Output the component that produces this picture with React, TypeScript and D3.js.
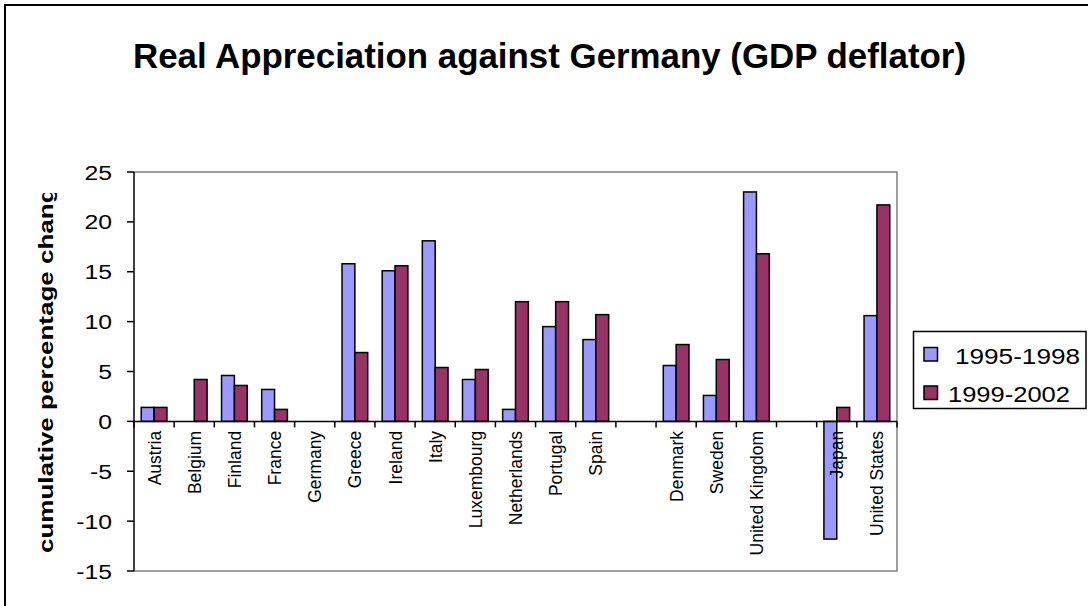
import React from "react";
import * as d3 from "d3";

const categories = ["Austria","Belgium","Finland","France","Germany","Greece","Ireland","Italy","Luxembourg","Netherlands","Portugal","Spain","","Denmark","Sweden","United Kingdom","","Japan","United States"];
const series1995 = [1.4,0,4.6,3.2,0,15.8,15.1,18.1,4.2,1.2,9.5,8.2,null,5.6,2.6,23.0,null,-11.8,10.6];
const series1999 = [1.4,4.2,3.6,1.2,0,6.9,15.6,5.4,5.2,12.0,12.0,10.7,null,7.7,6.2,16.8,null,1.4,21.7];
const seriesNames = ["1995-1998","1999-2002"];
const yTicks = [-15,-10,-5,0,5,10,15,20,25];
const colors = ["#9999FF","#993366"];

const FONT = "'Liberation Sans', Arial, sans-serif";

export default function App() {
  const W = 1088, H = 606;
  const left = 134, right = 897, top = 172, bottom = 571;
  const x = d3.scaleBand<number>().domain(d3.range(categories.length)).range([left, right]).padding(0);
  const y = d3.scaleLinear().domain([-15, 25]).range([bottom, top]);
  const step = x.step();
  const barW = step * 0.32;
  const inner = d3.scaleBand<number>().domain([0, 1]).range([0, barW * 2]).padding(0);
  const all = [series1995, series1999];
  const y0 = y(0);

  return (
    <svg width={W} height={H} style={{ position: "absolute", left: 0, top: 0, background: "#fff" }} fontFamily={FONT}>
      <rect x={0} y={0} width={W} height={H} fill="#fff" />
      <rect x={5} y={5} width={W + 20} height={H + 20} fill="none" stroke="#000" strokeWidth={2} />
      <defs>
        <clipPath id="ytclip">
          <rect x={0} y={193} width={120} height={400} />
        </clipPath>
      </defs>
      <text x={549.5} y={68} textAnchor="middle" fontSize={35.5} fontWeight="bold" textLength={833} lengthAdjust="spacingAndGlyphs">
        Real Appreciation against Germany (GDP deflator)
      </text>

      {/* plot area border */}
      <path d={`M${left},${top}H${right}V${bottom}H${left}`} fill="none" stroke="#808080" strokeWidth={1.5} />

      {/* bars */}
      {all.map((s, si) =>
        s.map((v, i) => {
          if (v === null || v === 0) return null;
          const cx = (x(i) as number) + step / 2;
          const bx = cx - barW + (inner(si) as number);
          const yv = y(v);
          return (
            <rect key={`${si}-${i}`} x={bx} y={Math.min(yv, y0)} width={barW} height={Math.abs(yv - y0)}
              fill={colors[si]} stroke="#000" strokeWidth={1.5} />
          );
        })
      )}

      {/* y axis */}
      <line x1={left} x2={left} y1={top} y2={bottom} stroke="#000" strokeWidth={1.5} />
      {yTicks.map((t) => (
        <g key={t}>
          <line x1={left - 7} x2={left} y1={y(t)} y2={y(t)} stroke="#000" strokeWidth={1.5} />
          <g transform={`translate(112,${y(t) + 7.5}) scale(1.18,1)`}>
            <text x={0} y={0} textAnchor="end" fontSize={21}>{t}</text>
          </g>
        </g>
      ))}

      {/* x axis at zero */}
      <line x1={left} x2={right} y1={y0} y2={y0} stroke="#000" strokeWidth={1.5} />
      {d3.range(categories.length + 1).map((i) => (
        <line key={i} x1={left + i * step} x2={left + i * step} y1={y0} y2={y0 + 6} stroke="#000" strokeWidth={1.5} />
      ))}
      {categories.map((c, i) => (
        <text key={i} transform={`translate(${(x(i) as number) + step / 2 + 6.5},${y0 + 9.5}) rotate(-90)`}
          textAnchor="end" fontSize={17.5}>{c}</text>
      ))}

      {/* y axis title */}
      <g clipPath="url(#ytclip)">
        <text transform="translate(53,553) rotate(-90)" textAnchor="start" fontSize={20} fontWeight="bold"
          textLength={380} lengthAdjust="spacingAndGlyphs">cumulative percentage change</text>
      </g>

      {/* legend */}
      <rect x={913.5} y={331.5} width={172.5} height={77} fill="#fff" stroke="#000" strokeWidth={1.5} />
      <rect x={924} y={347.5} width={13.5} height={13.5} fill={colors[0]} stroke="#000" strokeWidth={1.5} />
      <text x={955} y={364} fontSize={22} textLength={125} lengthAdjust="spacingAndGlyphs">{seriesNames[0]}</text>
      <rect x={924} y={386} width={13.5} height={13.5} fill={colors[1]} stroke="#000" strokeWidth={1.5} />
      <text x={948} y={402} fontSize={22} textLength={122} lengthAdjust="spacingAndGlyphs">{seriesNames[1]}</text>
    </svg>
  );
}
